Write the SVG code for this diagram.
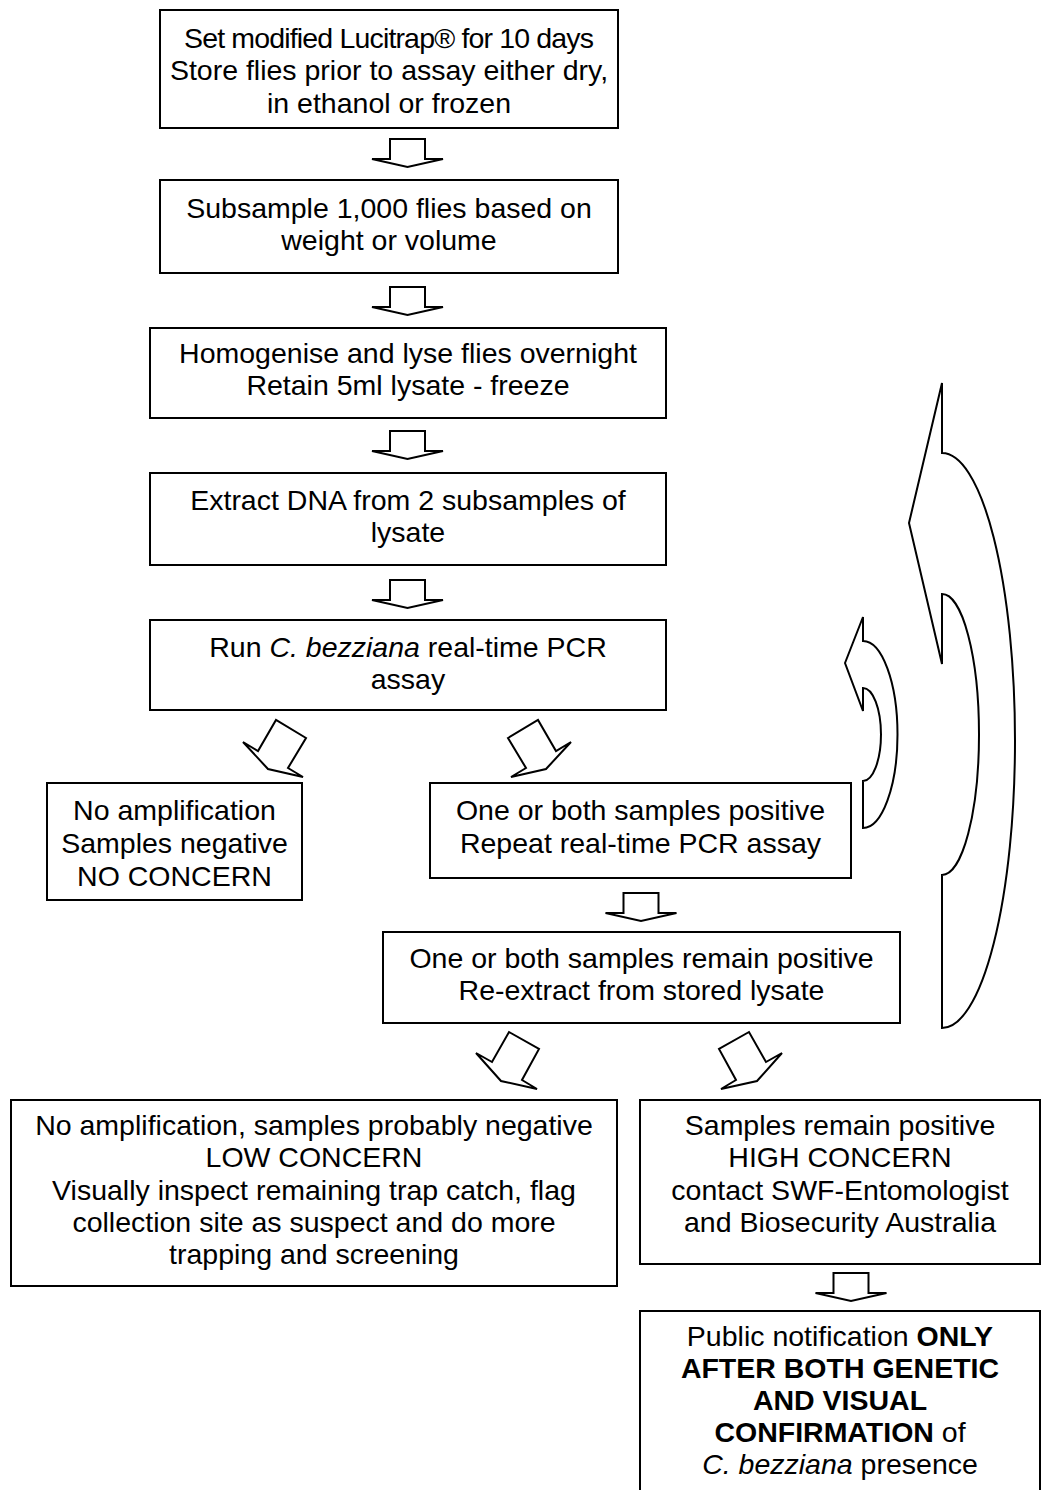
<svg xmlns="http://www.w3.org/2000/svg" xmlns:xlink="http://www.w3.org/1999/xlink" width="1052" height="1490" viewBox="0 0 1052 1490">
<style>
.box{fill:#fff;stroke:#000;stroke-width:2}
.arr{fill:#fff;stroke:#000;stroke-width:2;stroke-linejoin:miter}
text{font-family:"Liberation Sans",Arial,sans-serif;font-size:28.5px;fill:#000;text-anchor:middle}
.b{font-weight:bold}
.i{font-style:italic}
</style>
<defs>
<path id="down" d="M-17.5,0 H17.5 V20 H35.5 L0,28 L-35.5,20 H-17.5 Z"/>
</defs>
<rect width="1052" height="1490" fill="#fff"/>
<g id="connectors">
<use xlink:href="#down" class="arr" transform="translate(407.5,139)"/>
<use xlink:href="#down" class="arr" transform="translate(407.5,287)"/>
<use xlink:href="#down" class="arr" transform="translate(407.5,431)"/>
<use xlink:href="#down" class="arr" transform="translate(407.5,580)"/>
<use xlink:href="#down" class="arr" transform="translate(641,893)"/>
<use xlink:href="#down" class="arr" transform="translate(851,1273)"/>
<polygon class="arr" points="243,742 258,751 276,720 306,738 288,768 303,777 268,769"/>
<polygon class="arr" points="571,742 556,751 538,720 508,738 526,768 511,777 546,769"/>
<polygon class="arr" points="476,1053 492,1062 509,1032 539,1049 522,1080 537,1089 501,1081"/>
<polygon class="arr" points="782,1053 766,1062 749,1032 719,1049 736,1080 721,1089 757,1081"/>
<path class="arr" d="M845,663 L863,617 L863,641 A34.5,93.5 0 0 1 863,828 L863,781 A18,46.5 0 0 0 863,688 L863,711 Z"/>
<path class="arr" d="M909,523 L942,383 L942,453 A73,287.5 0 0 1 942,1028 L942,875 A37,140.5 0 0 0 942,594 L942,664 Z"/>
</g>
<g id="n1"><rect class="box" x="160" y="10" width="458" height="118"/>
<text x="389" y="48" textLength="410" lengthAdjust="spacing">Set modified Lucitrap® for 10 days</text>
<text x="389" y="80">Store flies prior to assay either dry,</text>
<text x="389" y="113">in ethanol or frozen</text></g>
<g id="n2"><rect class="box" x="160" y="180" width="458" height="93"/>
<text x="389" y="218">Subsample 1,000 flies based on</text>
<text x="389" y="250">weight or volume</text></g>
<g id="n3"><rect class="box" x="150" y="328" width="516" height="90"/>
<text x="408" y="363">Homogenise and lyse flies overnight</text>
<text x="408" y="395">Retain 5ml lysate - freeze</text></g>
<g id="n4"><rect class="box" x="150" y="473" width="516" height="92"/>
<text x="408" y="510">Extract DNA from 2 subsamples of</text>
<text x="408" y="542">lysate</text></g>
<g id="n5"><rect class="box" x="150" y="620" width="516" height="90"/>
<text x="408" y="657">Run <tspan class="i">C. bezziana</tspan> real-time PCR</text>
<text x="408" y="689">assay</text></g>
<g id="n6"><rect class="box" x="47" y="783" width="255" height="117"/>
<text x="174.5" y="820">No amplification</text>
<text x="174.5" y="853">Samples negative</text>
<text x="174.5" y="886">NO CONCERN</text></g>
<g id="n7"><rect class="box" x="430" y="783" width="421" height="95"/>
<text x="640.5" y="820">One or both samples positive</text>
<text x="640.5" y="853">Repeat real-time PCR assay</text></g>
<g id="n8"><rect class="box" x="383" y="932" width="517" height="91"/>
<text x="641.5" y="968">One or both samples remain positive</text>
<text x="641.5" y="1000">Re-extract from stored lysate</text></g>
<g id="n9"><rect class="box" x="11" y="1100" width="606" height="186"/>
<text x="314" y="1135">No amplification, samples probably negative</text>
<text x="314" y="1167">LOW CONCERN</text>
<text x="314" y="1200">Visually inspect remaining trap catch, flag</text>
<text x="314" y="1232">collection site as suspect and do more</text>
<text x="314" y="1264">trapping and screening</text></g>
<g id="n10"><rect class="box" x="640" y="1100" width="400" height="164"/>
<text x="840" y="1135">Samples remain positive</text>
<text x="840" y="1167">HIGH CONCERN</text>
<text x="840" y="1200">contact SWF-Entomologist</text>
<text x="840" y="1232">and Biosecurity Australia</text></g>
<g id="n11"><rect class="box" x="640" y="1311" width="400" height="200"/>
<text x="840" y="1346">Public notification <tspan class="b">ONLY</tspan></text>
<text x="840" y="1378" class="b">AFTER BOTH GENETIC</text>
<text x="840" y="1410" class="b">AND VISUAL</text>
<text x="840" y="1442"><tspan class="b">CONFIRMATION</tspan> of</text>
<text x="840" y="1474"><tspan class="i">C. bezziana</tspan> presence</text></g>
</svg>
